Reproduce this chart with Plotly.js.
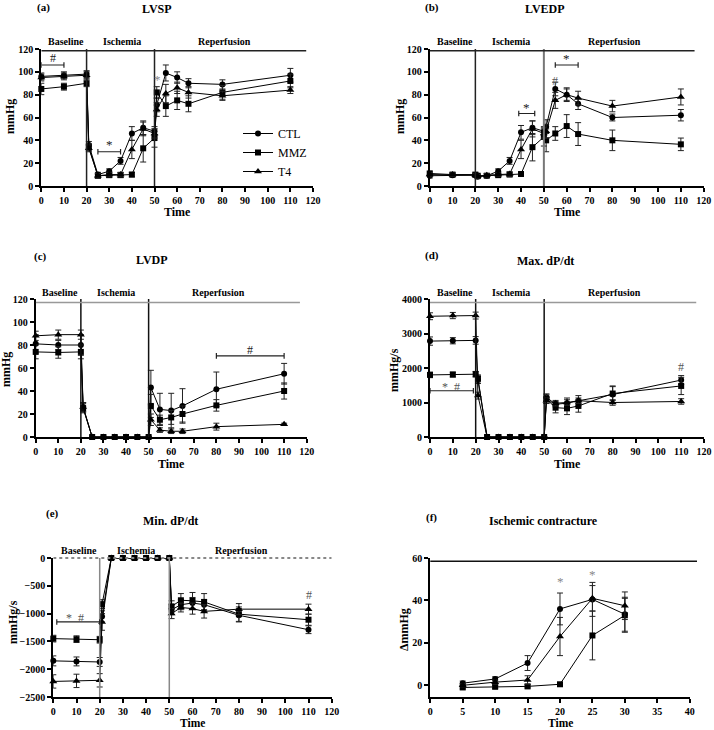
<!DOCTYPE html>
<html><head><meta charset="utf-8">
<script src="https://cdn.plot.ly/plotly-3.0.1.min.js"></script>
<style>html,body{margin:0;padding:0;background:#fff}#chart{width:714px;height:730px}</style>
</head><body><div id="chart"></div>
<script>
// ---------- DATA ----------
const time = [0,10,20,21,25,30,35,40,45,50,51,55,60,65,80,110];
const timeF = [5,10,15,20,25,30];
const groups = ['CTL','MMZ','T4'];

// (a) LVSP
const lvspCTL  = [96,97,98,36,10,13,22,46,51,48,71,99,95,90,89,97];
const lvspCTLe = [3,3,3,3,2,2,3,6,6,4,6,7,5,4,4,6];
const lvspMMZ  = [85,87,90,34,9,9.5,9.5,10,33,42,82,70,75,72,82,92];
const lvspMMZe = [5,3,3,3,2,2,2,2,12,8,5,9,8,7,6,6];
const lvspT4   = [95,96,97,33,9,10,10,32,50,46,67,81,86,82,79,84];
const lvspT4e  = [3,3,3,3,2,2,2,8,6,4,6,8,5,5,4,3];
// (b) LVEDP
const lvedpCTL  = [9,9.5,9.5,8,9,13,22,47,51,48,52,85,80,72,60,62];
const lvedpCTLe = [2,1.5,1.5,1.5,1.5,2,3,6,6,4,6,6,5,5,3,5];
const lvedpMMZ  = [11,10,10,9,9,9.5,10,10.5,34,43,40,46,52.5,45.5,40,36.5];
const lvedpMMZe = [2,1.5,1.5,1.5,1.5,1.5,1.5,1.5,12,8,10,6,10,10,9,5.5];
const lvedpT4   = [10,10,9.5,8.5,9.5,10,10.5,32,50,46,48,75,80,77,70,78];
const lvedpT4e  = [2,1.5,1.5,1.5,1.5,1.5,2,8,7,4,6,7,6,6,5,7];
// (c) LVDP
const lvdpCTL  = [81,80,80,26,0,0,0,0,0,0,43,24,23,27,41.5,55];
const lvdpCTLe = [8,4,9,4,0,0,0,0,0,0,15,14,15,15,15,9];
const lvdpMMZ  = [74,73.5,74,25,0,0,0,0,0,0,27,15,17,20,27.5,40];
const lvdpMMZe = [6,5,6,4,0,0,0,0,0,0,10,4,6,7,5,7];
const lvdpT4   = [88,89,89,26,0,0,0,0,0,0,15,6,5,5,9,11];
const lvdpT4e  = [4,4,4,4,0,0,0,0,0,0,5,2,2,2,3,1];
// (d) Max dP/dt
const maxCTL  = [2780,2790,2800,1650,0,0,0,0,0,0,1150,950,980,1050,1230,1650];
const maxCTLe = [120,90,110,100,0,0,0,0,0,0,100,80,150,150,250,130];
const maxMMZ  = [1800,1810,1820,1700,0,0,0,0,0,0,1100,850,830,900,1260,1480];
const maxMMZe = [80,70,80,100,0,0,0,0,0,0,120,150,180,180,200,250];
const maxT4   = [3500,3520,3520,1200,0,0,0,0,0,0,1050,980,1000,1050,1000,1030];
const maxT4e  = [100,90,100,100,0,0,0,0,0,0,80,80,80,80,80,80];
// (e) Min dP/dt
const minCTL  = [-1850,-1860,-1870,-1050,0,0,0,0,0,0,-930,-840,-810,-840,-1030,-1290];
const minCTLe = [90,80,80,100,0,0,0,0,0,0,90,90,100,90,120,70];
const minMMZ  = [-1450,-1460,-1470,-830,0,0,0,0,0,0,-870,-760,-770,-790,-1010,-1110];
const minMMZe = [60,60,60,80,0,0,0,0,0,0,100,120,150,150,130,100];
const minT4   = [-2220,-2210,-2200,-1150,0,0,0,0,0,0,-1000,-890,-910,-960,-920,-920];
const minT4e  = [120,120,120,150,0,0,0,0,0,0,90,80,100,120,100,90];
// (f) Ischemic contracture
const icCTL  = [1,3,10.5,36,40.5,33.5];
const icCTLe = [1,1,3.5,7.5,8,8];
const icMMZ  = [-1,-0.7,-0.5,0.5,23.5,33];
const icMMZe = [0.7,0.7,0.7,0.5,11.5,8];
const icT4   = [0,1.5,2.5,23,41,37.5];
const icT4e  = [0.7,1,2,9,6,6.5];

// ---------- LAYOUT HELPERS ----------
const W = 714, H = 730;
const px = v => v / W;
const py = v => 1 - v / H;
const FONT = 'Liberation Serif, Times New Roman, serif';
const symbols = {CTL:'circle', MMZ:'square', T4:'triangle-up'};
const sizes = {CTL:6, MMZ:6, T4:7};

const panels = [
  {id:'',  x:[41.3,313],   y:[49,186],  xr:[0,120], yr:[0,120],     dx:10, dy:20,   sets:[[lvspCTL,lvspCTLe],[lvspMMZ,lvspMMZe],[lvspT4,lvspT4e]], t:time},
  {id:'2', x:[429.7,703.7],y:[49,186],  xr:[0,120], yr:[0,120],     dx:10, dy:20,   sets:[[lvedpCTL,lvedpCTLe],[lvedpMMZ,lvedpMMZe],[lvedpT4,lvedpT4e]], t:time},
  {id:'3', x:[35.7,306.7], y:[299,437], xr:[0,120], yr:[0,120],     dx:10, dy:20,   sets:[[lvdpCTL,lvdpCTLe],[lvdpMMZ,lvdpMMZe],[lvdpT4,lvdpT4e]], t:time},
  {id:'4', x:[430,704],    y:[299,437], xr:[0,120], yr:[0,4000],    dx:10, dy:1000, sets:[[maxCTL,maxCTLe],[maxMMZ,maxMMZe],[maxT4,maxT4e]], t:time},
  {id:'5', x:[53.3,331.7], y:[558,697], xr:[0,120], yr:[-2500,0],   dx:10, dy:500,  sets:[[minCTL,minCTLe],[minMMZ,minMMZe],[minT4,minT4e]], t:time},
  {id:'6', x:[430.3,689.7],y:[558,697], xr:[0,40],  yr:[-5.5,60],   dx:5,  dy:20,   sets:[[icCTL,icCTLe],[icMMZ,icMMZe],[icT4,icT4e]], t:timeF, tick0y:0}
];

const layout = {
  width: W, height: H, margin:{l:0,r:0,t:0,b:0},
  paper_bgcolor:'#fff', plot_bgcolor:'rgba(0,0,0,0)',
  showlegend: true,
  legend:{x:px(238), y:py(119), xanchor:'left', yanchor:'top', bgcolor:'rgba(0,0,0,0)',
          font:{family:FONT, size:12, color:'#000'}, itemwidth:30, tracegroupgap:0},
  font:{family:FONT, color:'#000'},
  annotations:[], shapes:[]
};

const data = [];
panels.forEach((p, pi) => {
  const xa = 'x' + p.id, ya = 'y' + p.id;
  const axBase = {
    showline:true, linecolor:'#000', linewidth:2, ticks:'outside', ticklen:4, tickwidth:2, tickcolor:'#000',
    tickfont:{family:FONT, size:10, color:'#000', weight:700}, showgrid:false, zeroline:false, fixedrange:true,
    tickmode:'linear'
  };
  layout['xaxis' + p.id] = Object.assign({}, axBase, {
    domain:[px(p.x[0]), px(p.x[1])], range:p.xr, anchor:ya, tick0:0, dtick:p.dx
  });
  layout['yaxis' + p.id] = Object.assign({}, axBase, {
    domain:[py(p.y[1]), py(p.y[0])], range:p.yr, anchor:xa, tick0:(p.tick0y!==undefined?p.tick0y:p.yr[0]), dtick:p.dy
  });
  p.sets.forEach((s, gi) => {
    const g = groups[gi];
    data.push({
      type:'scatter', mode:'lines+markers', name:g, x:p.t, y:s[0],
      xaxis:xa, yaxis:ya, cliponaxis:false, showlegend: pi===0, legendgroup:g,
      line:{color:'#000', width:1},
      marker:{symbol:symbols[g], size:sizes[g], color:'#000'},
      error_y:{type:'data', array:s[1], visible:true, color:'#222', thickness:1, width:3}
    });
  });
});

// ---------- TEXT ----------
function ann(x, y, text, o) {
  layout.annotations.push(Object.assign({x:px(x), y:py(y), xref:'paper', yref:'paper', text:text, showarrow:false,
    font:{family:FONT, size:12, color:'#000', weight:700}, xanchor:'center', yanchor:'middle'}, o||{}));
}
const small = {family:FONT,size:11,color:'#000',weight:700};
// panel letters and titles
ann(43.5, 8, '(a)', {font:small});
ann(157, 9, 'LVSP');
ann(432, 8, '(b)', {font:small});
ann(545, 9, 'LVEDP');
ann(40.5, 256, '(c)', {font:small});
ann(152, 260, 'LVDP');
ann(432, 255, '(d)', {font:small});
ann(545, 261, 'Max. dP/dt');
ann(52, 513, '(e)', {font:small});
ann(170, 521, 'Min. dP/dt');
ann(432, 517, '(f)', {font:small});
ann(543, 521, 'Ischemic contracture');
// axis titles
ann(177, 212, 'Time'); ann(567, 212, 'Time');
ann(171, 463.5, 'Time'); ann(567, 463.5, 'Time');
const tfont = {family:FONT,size:11.5,color:'#000',weight:700};
ann(192, 730, 'Time', {yanchor:'bottom', borderpad:0, font:tfont}); ann(560, 730, 'Time', {yanchor:'bottom', borderpad:0, font:tfont});
ann(10, 117, 'mmHg', {textangle:-90});
ann(400, 117, 'mmHg', {textangle:-90});
ann(6, 370, 'mmHg', {textangle:-90});
ann(394, 370, 'mmHg/s', {textangle:-90});
ann(13, 622, 'mmHg/s', {textangle:-90});
ann(404, 630, '\u0394mmHg', {textangle:-90});

// phase labels
const phaseNames = ['Baseline','Ischemia','Reperfusion'];
const phaseX = [10.9, 35.5, 81];
[['',41],['2',41],['3',292],['4',292],['5',550]].forEach(([id, yy]) => {
  phaseNames.forEach((n, i) => layout.annotations.push({
    x:phaseX[i], xref:'x'+id, y:py(yy), yref:'paper', text:n, showarrow:false,
    font:{family:FONT, size:10, color:'#000', weight:700}, xanchor:'center', yanchor:'middle'
  }));
});

// phase lines
function vline(id, x, y0, y1, color, w) {
  layout.shapes.push({type:'line', xref:'x'+id, yref:'y'+id, x0:x, x1:x, y0:y0, y1:y1, line:{color:color, width:w}});
}
function hline(id, y, x0, x1, color, w) {
  layout.shapes.push({type:'line', xref:'x'+id, yref:'y'+id, x0:x0, x1:x1, y0:y, y1:y, line:{color:color, width:w}});
}
vline('', 20, 0, 120, '#222', 1.5); vline('', 50, 0, 120, '#222', 1.5); hline('', 118.5, 0, 117, '#222', 1.5);
vline('2', 20, 0, 120, '#222', 1.5); vline('2', 50, 0, 120, '#777', 2); hline('2', 118.5, 0, 116, '#222', 1.5);
vline('3', 20, 0, 120, '#111', 1.5); vline('3', 50, 0, 120, '#111', 1.5); hline('3', 117, 0, 117, '#999', 1.5);
vline('4', 20, 0, 4000, '#111', 1.5); vline('4', 50, 0, 4000, '#111', 1.5); hline('4', 3900, 0, 116.6, '#999', 1.5);
vline('5', 20, -2500, 0, '#888', 1.5); vline('5', 50, -2500, 0, '#888', 1.5);
layout.shapes.push({type:'line', xref:'x5', yref:'paper', x0:0, x1:120, y0:py(558), y1:py(558), line:{color:'#888', width:2, dash:'dot'}});
layout.shapes.push({type:'line', xref:'paper', yref:'y6', x0:px(430.3), x1:px(697), y0:58.5, y1:58.5, line:{color:'#111', width:1.5}});

// significance brackets & marks
function bracket(id, x0, x1, y, cap, color) {
  layout.shapes.push({type:'path', xref:'x'+id, yref:'y'+id,
    path:`M ${x0},${y-cap} L ${x0},${y+cap} M ${x0},${y} L ${x1},${y} M ${x1},${y-cap} L ${x1},${y+cap}`,
    line:{color:color||'#222', width:1.2}});
}
function mark(id, x, y, t, color, size) {
  layout.annotations.push({x:x, y:y, xref:'x'+id, yref:'y'+id, text:t, showarrow:false,
    font:{family:FONT, size:size||12, color:color||'#333', weight:400}, xanchor:'center', yanchor:'middle'});
}
bracket('', 0, 10, 106, 2.5); mark('', 5, 112, '#', '#222');
bracket('', 25, 35, 30, 2.5); mark('', 30, 36, '*', '#222', 13);
mark('', 51.5, 93, '*', '#888', 13);
bracket('2', 39, 46, 63.5, 2.5); mark('2', 42.5, 69, '*', '#222', 13);
bracket('2', 55, 65, 106, 2.5); mark('2', 60, 111.5, '*', '#222', 13);
mark('2', 55, 92, '#', '#555');
bracket('3', 80, 110, 70.5, 2.5); mark('3', 95, 76, '#', '#222');
bracket('4', 0, 19, 1340, 80); mark('4', 9, 1460, '*  #', '#555');
mark('4', 110, 2040, '#', '#555');
bracket('5', 1.5, 20, -1150, 50); mark('5', 9.5, -1080, '*  #', '#555');
mark('5', 110, -660, '#', '#555');
mark('6', 20, 49, '*', '#888', 13); mark('6', 25, 52, '*', '#888', 13);

Plotly.newPlot('chart', data, layout, {displayModeBar:false, staticPlot:true});
</script></body></html>
